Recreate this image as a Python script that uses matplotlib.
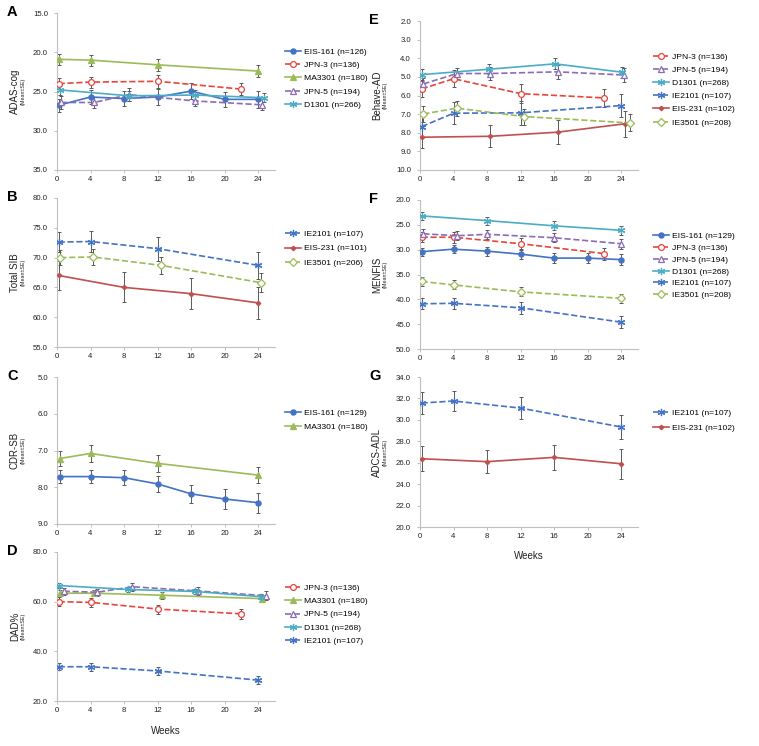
import matplotlib
matplotlib.use('Agg')
import matplotlib.pyplot as plt
from matplotlib.ticker import FormatStrFormatter

plt.rcParams['font.family'] = ['Liberation Sans', 'DejaVu Sans']

W, H = 759, 746

# ---- A: ADAS-cog ----
a_eis161_x = [0.2, 4, 8, 12, 16, 20, 24]
a_eis161_y = [26.75, 25.7, 25.9, 25.7, 24.95, 26.0, 26.0]
a_eis161_e = [0.8, 0.9, 1.0, 1.0, 1.0, 1.0, 1.1]
a_jpn3_x = [0.2, 4, 12, 22]
a_jpn3_y = [24.0, 23.8, 23.7, 24.7]
a_jpn3_e = [0.7, 0.7, 0.8, 0.8]
a_ma3301_x = [0.2, 4, 12, 24]
a_ma3301_y = [20.9, 21.0, 21.6, 22.4]
a_ma3301_e = [0.7, 0.7, 0.8, 0.8]
a_jpn5_x = [0.5, 4.4, 8.6, 16.4, 24.5]
a_jpn5_y = [26.4, 26.4, 25.4, 26.2, 26.7]
a_jpn5_e = [0.8, 0.7, 0.8, 0.7, 0.7]
a_d1301_x = [0.4, 8.6, 16.5, 24.7]
a_d1301_y = [24.8, 25.55, 25.45, 25.8]
a_d1301_e = [0.6, 0.6, 0.6, 0.6]

# ---- B: Total SIB ----
b_ie2101_x = [0.2, 4, 12, 24]
b_ie2101_y = [72.6, 72.7, 71.5, 68.7]
b_ie2101_e = [1.7, 1.7, 2.0, 2.3]
b_eis231_x = [0.2, 8, 16, 24]
b_eis231_y = [67.0, 65.0, 63.95, 62.4]
b_eis231_e = [2.4, 2.5, 2.6, 2.7]
b_ie3501_x = [0.4, 4.3, 12.4, 24.3]
b_ie3501_y = [70.0, 70.1, 68.7, 65.8]
b_ie3501_e = [1.3, 1.3, 1.4, 1.6]

# ---- C: CDR-SB ----
c_eis161_x = [0.3, 4, 8, 12, 16, 20, 24]
c_eis161_y = [7.71, 7.71, 7.74, 7.91, 8.18, 8.32, 8.42]
c_eis161_e = [0.17, 0.18, 0.2, 0.22, 0.25, 0.26, 0.27]
c_ma3301_x = [0.3, 4, 12, 24]
c_ma3301_y = [7.22, 7.08, 7.35, 7.67]
c_ma3301_e = [0.2, 0.22, 0.24, 0.22]

# ---- D: DAD% ----
d_jpn3_x = [0.2, 4.1, 12.1, 22]
d_jpn3_y = [60.0, 59.7, 57.0, 55.1]
d_jpn3_e = [1.8, 1.9, 1.8, 1.9]
d_ma3301_x = [0.4, 4.4, 12.5, 24.5]
d_ma3301_y = [63.4, 63.4, 62.6, 61.2]
d_ma3301_e = [1.2, 1.3, 1.4, 1.4]
d_jpn5_x = [0.8, 4.8, 9.0, 16.8, 24.9]
d_jpn5_y = [64.2, 63.8, 66.0, 64.3, 62.4]
d_jpn5_e = [1.4, 1.5, 1.6, 1.6, 1.7]
d_d1301_x = [0.2, 8.5, 16.5, 24.3]
d_d1301_y = [66.5, 64.9, 64.1, 62.0]
d_d1301_e = [1.0, 1.0, 1.0, 1.0]
d_ie2101_x = [0.2, 4, 12, 24]
d_ie2101_y = [33.8, 33.8, 32.1, 28.4]
d_ie2101_e = [1.5, 1.6, 1.6, 1.6]

# ---- E: Behave-AD ----
e_jpn3_x = [0.2, 4, 12, 22]
e_jpn3_y = [5.65, 5.1, 5.9, 6.13]
e_jpn3_e = [0.45, 0.45, 0.5, 0.5]
e_jpn5_x = [0.4, 4.4, 8.4, 16.4, 24.3]
e_jpn5_y = [5.38, 4.82, 4.82, 4.73, 4.9]
e_jpn5_e = [0.33, 0.3, 0.33, 0.37, 0.37]
e_d1301_x = [0.2, 8.2, 16.1, 24.1]
e_d1301_y = [4.88, 4.59, 4.3, 4.75]
e_d1301_e = [0.28, 0.27, 0.3, 0.3]
e_ie2101_x = [0.2, 4, 12, 24]
e_ie2101_y = [7.67, 6.95, 6.93, 6.54]
e_ie2101_e = [0.55, 0.6, 0.65, 0.6]
e_eis231_x = [0.2, 8.4, 16.4, 24.4]
e_eis231_y = [8.24, 8.19, 7.97, 7.52]
e_eis231_e = [0.6, 0.6, 0.65, 0.7]
e_ie3501_x = [0.4, 4.4, 12.4, 25.0]
e_ie3501_y = [6.99, 6.68, 7.13, 7.47]
e_ie3501_e = [0.42, 0.4, 0.43, 0.45]

# ---- F: MENFIS ----
f_eis161_x = [0.2, 4, 8, 12, 16, 20, 24]
f_eis161_y = [30.4, 29.9, 30.3, 30.9, 31.7, 31.7, 32.0]
f_eis161_e = [0.8, 0.8, 0.9, 0.9, 1.0, 1.0, 1.1]
f_jpn3_x = [0.2, 4, 12, 22]
f_jpn3_y = [27.5, 27.5, 28.8, 30.8]
f_jpn3_e = [1.0, 1.1, 1.1, 1.2]
f_jpn5_x = [0.4, 4.4, 8, 16, 24]
f_jpn5_y = [26.8, 27.2, 26.9, 27.6, 28.8]
f_jpn5_e = [0.9, 0.9, 0.9, 0.9, 1.0]
f_d1301_x = [0.2, 8, 16, 24]
f_d1301_y = [23.2, 24.15, 25.2, 26.1]
f_d1301_e = [0.8, 0.8, 0.9, 0.9]
f_ie2101_x = [0.2, 4, 12, 24]
f_ie2101_y = [40.9, 40.8, 41.7, 44.6]
f_ie2101_e = [1.1, 1.1, 1.2, 1.2]
f_ie3501_x = [0.2, 4, 12, 24]
f_ie3501_y = [36.4, 37.1, 38.5, 39.8]
f_ie3501_e = [0.9, 0.9, 0.9, 0.9]

# ---- G: ADCS-ADL ----
g_ie2101_x = [0.2, 4, 12, 24]
g_ie2101_y = [31.57, 31.76, 31.1, 29.33]
g_ie2101_e = [1.0, 0.95, 1.05, 1.1]
g_eis231_x = [0.2, 8, 16, 24]
g_eis231_y = [26.37, 26.1, 26.5, 25.9]
g_eis231_e = [1.15, 1.1, 1.2, 1.4]

week_ticks = [0, 4, 8, 12, 16, 20, 24]

star = (6, 2, 0)
STY = {
    'EIS-161': dict(color='#4472C4', ls='-', marker='o', mfc='#4472C4', ms=3.7),
    'JPN-3': dict(color='#E8453C', ls='--', marker='o', mfc='white', ms=4.2),
    'MA3301': dict(color='#9BBB59', ls='-', marker='^', mfc='#9BBB59', ms=3.7),
    'JPN-5': dict(color='#8A6CB5', ls='--', marker='^', mfc='white', ms=4.7),
    'D1301': dict(color='#4BACC6', ls='-', marker=star, mfc='#4BACC6', ms=5.2),
    'IE2101': dict(color='#4472C4', ls='--', marker=star, mfc='#4472C4', ms=5.2),
    'EIS-231': dict(color='#C0504D', ls='-', marker='D', mfc='#C0504D', ms=2.3),
    'IE3501': dict(color='#9BBB59', ls='--', marker='D', mfc='white', ms=3.7),
}

fig = plt.figure(figsize=(W / 100, H / 100), dpi=100)


def make_ax(left, top, right, bottom):
    return fig.add_axes([left / W, 1 - bottom / H, (right - left) / W, (bottom - top) / H])


def series(ax, name, x, y, e):
    s = STY[name]
    ax.errorbar(x, y, yerr=e, fmt='none', ecolor='#595959', elinewidth=0.7,
                capsize=1.5, capthick=0.7, zorder=2)
    ln, = ax.plot(x, y, ls=s['ls'], color=s['color'], lw=1.2, marker=s['marker'],
                  mfc=s['mfc'], mec=s['color'], ms=s['ms'], mew=0.9, zorder=3)
    return ln


def pos_top(ax):
    return (1 - ax.get_position().y1) * H


def style(ax, ylim, yticks, inverted, letter, label, lx, weeks=None):
    ax.set_xlim(0, 26)
    ax.set_xticks(week_ticks)
    ax.set_ylim(ylim)
    ax.set_yticks(yticks)
    if inverted:
        ax.invert_yaxis()
    ax.yaxis.set_major_formatter(FormatStrFormatter('%.1f'))
    for sp in ['top', 'right']:
        ax.spines[sp].set_visible(False)
    for sp in ['left', 'bottom']:
        ax.spines[sp].set_color('#BFBFBF')
        ax.spines[sp].set_linewidth(0.8)
    ax.tick_params(axis='both', labelsize=5.6, colors='#BFBFBF', labelcolor='#222222',
                   length=2.5, width=0.7)
    ax.tick_params(axis='y', pad=4)
    ax.tick_params(axis='x', pad=2)
    pos = ax.get_position()
    yc = pos.y0 + pos.height / 2
    fig.text(lx / W, yc, label, rotation=90, ha='center', va='center', fontsize=7, color='#222222')
    fig.text((lx + 8.5) / W, yc, '(Mean\u00b1SE)', rotation=90, ha='center', va='center',
             fontsize=3.9, color='#222222')
    fig.text((lx - 8) / W, 1 - (pos_top(ax) - 1) / H, letter, fontsize=10.5, fontweight='bold',
             ha='left', va='center', color='black')
    if weeks is not None:
        fig.text((pos.x0 + pos.width / 2), 1 - weeks / H, 'Weeks', ha='center', va='center',
                 fontsize=7, color='#222222')


def legend(ax, handles, labels, x, yc, spacing):
    ax.legend(handles, labels, loc='center left', bbox_to_anchor=(x / W, 1 - yc / H),
              bbox_transform=fig.transFigure, frameon=False, fontsize=6.1,
              handlelength=1.9, handletextpad=0.3, labelspacing=spacing,
              borderpad=0, borderaxespad=0)


# A
ax = make_ax(57, 13, 275, 170)
h = [series(ax, 'EIS-161', a_eis161_x, a_eis161_y, a_eis161_e),
     series(ax, 'JPN-3', a_jpn3_x, a_jpn3_y, a_jpn3_e),
     series(ax, 'MA3301', a_ma3301_x, a_ma3301_y, a_ma3301_e),
     series(ax, 'JPN-5', a_jpn5_x, a_jpn5_y, a_jpn5_e),
     series(ax, 'D1301', a_d1301_x, a_d1301_y, a_d1301_e)]
style(ax, (15, 35), [15, 20, 25, 30, 35], True, 'A', 'ADAS-cog', 15)
legend(ax, h, ['EIS-161 (n=126)', 'JPN-3 (n=136)', 'MA3301 (n=180)', 'JPN-5 (n=194)', 'D1301 (n=266)'],
       285, 78.5, 0.62)

# B
ax = make_ax(57, 198, 275, 347)
h = [series(ax, 'IE2101', b_ie2101_x, b_ie2101_y, b_ie2101_e),
     series(ax, 'EIS-231', b_eis231_x, b_eis231_y, b_eis231_e),
     series(ax, 'IE3501', b_ie3501_x, b_ie3501_y, b_ie3501_e)]
style(ax, (55, 80), [55, 60, 65, 70, 75, 80], False, 'B', 'Total SIB', 15)
legend(ax, h, ['IE2101 (n=107)', 'EIS-231 (n=101)', 'IE3501 (n=206)'], 285, 248.5, 0.8)

# C
ax = make_ax(57, 377, 275, 524)
h = [series(ax, 'EIS-161', c_eis161_x, c_eis161_y, c_eis161_e),
     series(ax, 'MA3301', c_ma3301_x, c_ma3301_y, c_ma3301_e)]
style(ax, (5, 9), [5, 6, 7, 8, 9], True, 'C', 'CDR-SB', 15)
legend(ax, h, ['EIS-161 (n=129)', 'MA3301 (n=180)'], 285, 420, 0.7)

# D
ax = make_ax(57, 552, 275, 701)
h = [series(ax, 'JPN-3', d_jpn3_x, d_jpn3_y, d_jpn3_e),
     series(ax, 'MA3301', d_ma3301_x, d_ma3301_y, d_ma3301_e),
     series(ax, 'JPN-5', d_jpn5_x, d_jpn5_y, d_jpn5_e),
     series(ax, 'D1301', d_d1301_x, d_d1301_y, d_d1301_e),
     series(ax, 'IE2101', d_ie2101_x, d_ie2101_y, d_ie2101_e)]
style(ax, (20, 80), [20, 40, 60, 80], False, 'D', 'DAD%', 15, weeks=731)
legend(ax, h, ['JPN-3 (n=136)', 'MA3301 (n=180)', 'JPN-5 (n=194)', 'D1301 (n=268)', 'IE2101 (n=107)'],
       285, 614.5, 0.62)

# E
ax = make_ax(420, 21, 638, 170)
h = [series(ax, 'JPN-3', e_jpn3_x, e_jpn3_y, e_jpn3_e),
     series(ax, 'JPN-5', e_jpn5_x, e_jpn5_y, e_jpn5_e),
     series(ax, 'D1301', e_d1301_x, e_d1301_y, e_d1301_e),
     series(ax, 'IE2101', e_ie2101_x, e_ie2101_y, e_ie2101_e),
     series(ax, 'EIS-231', e_eis231_x, e_eis231_y, e_eis231_e),
     series(ax, 'IE3501', e_ie3501_x, e_ie3501_y, e_ie3501_e)]
style(ax, (2, 10), [2, 3, 4, 5, 6, 7, 8, 9, 10], True, 'E', 'Behave-AD', 377)
legend(ax, h, ['JPN-3 (n=136)', 'JPN-5 (n=194)', 'D1301 (n=268)', 'IE2101 (n=107)', 'EIS-231 (n=102)',
               'IE3501 (n=208)'], 653, 89.7, 0.62)

# F
ax = make_ax(420, 200, 638, 349)
h = [series(ax, 'EIS-161', f_eis161_x, f_eis161_y, f_eis161_e),
     series(ax, 'JPN-3', f_jpn3_x, f_jpn3_y, f_jpn3_e),
     series(ax, 'JPN-5', f_jpn5_x, f_jpn5_y, f_jpn5_e),
     series(ax, 'D1301', f_d1301_x, f_d1301_y, f_d1301_e),
     series(ax, 'IE2101', f_ie2101_x, f_ie2101_y, f_ie2101_e),
     series(ax, 'IE3501', f_ie3501_x, f_ie3501_y, f_ie3501_e)]
style(ax, (20, 50), [20, 25, 30, 35, 40, 45, 50], True, 'F', 'MENFIS', 377)
legend(ax, h, ['EIS-161 (n=129)', 'JPN-3 (n=136)', 'JPN-5 (n=194)', 'D1301 (n=268)', 'IE2101 (n=107)',
               'IE3501 (n=208)'], 653, 265.7, 0.45)

# G
ax = make_ax(420, 377, 638, 527)
h = [series(ax, 'IE2101', g_ie2101_x, g_ie2101_y, g_ie2101_e),
     series(ax, 'EIS-231', g_eis231_x, g_eis231_y, g_eis231_e)]
style(ax, (20, 34), [20, 22, 24, 26, 28, 30, 32, 34], False, 'G', 'ADCS-ADL', 377, weeks=556)
legend(ax, h, ['IE2101 (n=107)', 'EIS-231 (n=102)'], 653, 420.8, 0.8)

fig.savefig('out.png', dpi=100)
